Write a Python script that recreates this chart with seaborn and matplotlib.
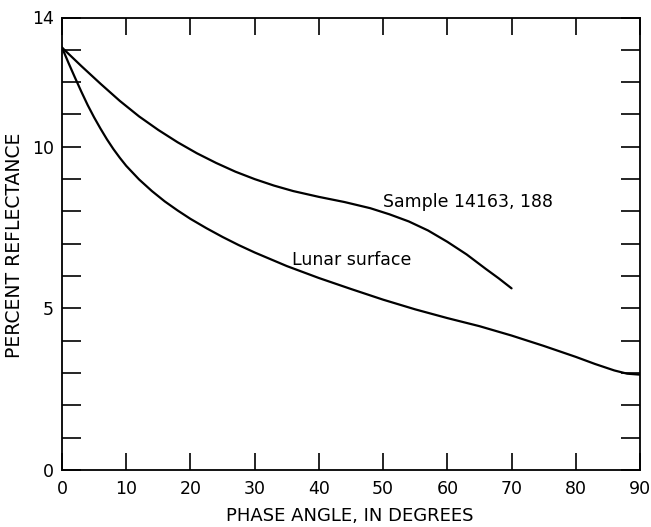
import matplotlib
matplotlib.use("Agg")
import matplotlib.pyplot as plt
import seaborn as sns
import pandas as pd

# Data
sample_angle = [0, 3, 6, 9, 12, 15, 18, 21, 24, 27, 30, 33, 36, 40, 44, 48, 51, 54, 57, 60, 63, 66, 68, 70]
sample_refl = [13.07, 12.5, 11.95, 11.42, 10.94, 10.52, 10.14, 9.8, 9.5, 9.23, 9.0, 8.8, 8.63, 8.45, 8.29,
               8.1, 7.91, 7.69, 7.41, 7.06, 6.67, 6.22, 5.93, 5.62]

lunar_angle = [0, 1, 2, 3, 4, 5, 6, 7, 8, 9, 10, 12, 14, 16, 18, 20, 22.5, 25, 27.5, 30, 35, 40, 45, 50,
               55, 60, 65, 70, 75, 80, 83, 86, 88, 90]
lunar_refl = [13.07, 12.6, 12.15, 11.71, 11.29, 10.91, 10.56, 10.23, 9.93, 9.66, 9.41, 8.99, 8.63, 8.31,
              8.03, 7.77, 7.48, 7.21, 6.96, 6.73, 6.31, 5.94, 5.6, 5.27, 4.97, 4.7, 4.45, 4.16, 3.84,
              3.5, 3.28, 3.08, 2.98, 2.95]

x_ticks = [0, 10, 20, 30, 40, 50, 60, 70, 80, 90]
y_ticks = list(range(0, 15))
y_labeled = {0: "0", 5: "5", 10: "10", 14: "14"}

sample_label = "Sample 14163, 188"
lunar_label = "Lunar surface"
x_title = "PHASE ANGLE, IN DEGREES"
y_title = "PERCENT REFLECTANCE"

sns.set_theme(style="ticks")
plt.rcParams["font.family"] = ["DejaVu Sans"]

fig = plt.figure(figsize=(6.51, 5.27), dpi=100)
ax = fig.add_axes([62 / 651, 1 - 470 / 527, (640 - 62) / 651, (470 - 17.5) / 527])

df_s = pd.DataFrame({"angle": sample_angle, "refl": sample_refl})
df_l = pd.DataFrame({"angle": lunar_angle, "refl": lunar_refl})
sns.lineplot(data=df_s, x="angle", y="refl", ax=ax, color="black", linewidth=1.6, sort=False)
sns.lineplot(data=df_l, x="angle", y="refl", ax=ax, color="black", linewidth=1.6, sort=False)

ax.set_xlim(0, 90)
ax.set_ylim(0, 14)
ax.set_xticks(x_ticks)
ax.set_xticklabels([str(v) for v in x_ticks])
ax.set_yticks(y_ticks)
ax.set_yticklabels([y_labeled.get(v, "") for v in y_ticks])
ax.set_xlabel("")
ax.set_ylabel("")

for s in ax.spines.values():
    s.set_visible(True)
    s.set_linewidth(1.3)
    s.set_color("black")

ax.tick_params(axis="x", direction="in", length=12, width=1.2, top=True, bottom=True,
               labelsize=12.5, pad=7, colors="black")
ax.tick_params(axis="y", direction="in", length=13.5, width=1.2, left=True, right=True,
               labelsize=12.5, pad=6, colors="black")

ax.text(50.0, 8.28, sample_label, fontsize=12.5, color="black", va="center", ha="left")
ax.text(35.8, 6.5, lunar_label, fontsize=12.5, color="black", va="center", ha="left")

fig.text(350 / 651, 1 - 516 / 527, x_title, fontsize=13, ha="center", va="center", color="black")
fig.text(15 / 651, 1 - 245 / 527, y_title, fontsize=13.5, ha="center", va="center", rotation=90,
         color="black")

fig.savefig("out.png", dpi=100, facecolor="white")
